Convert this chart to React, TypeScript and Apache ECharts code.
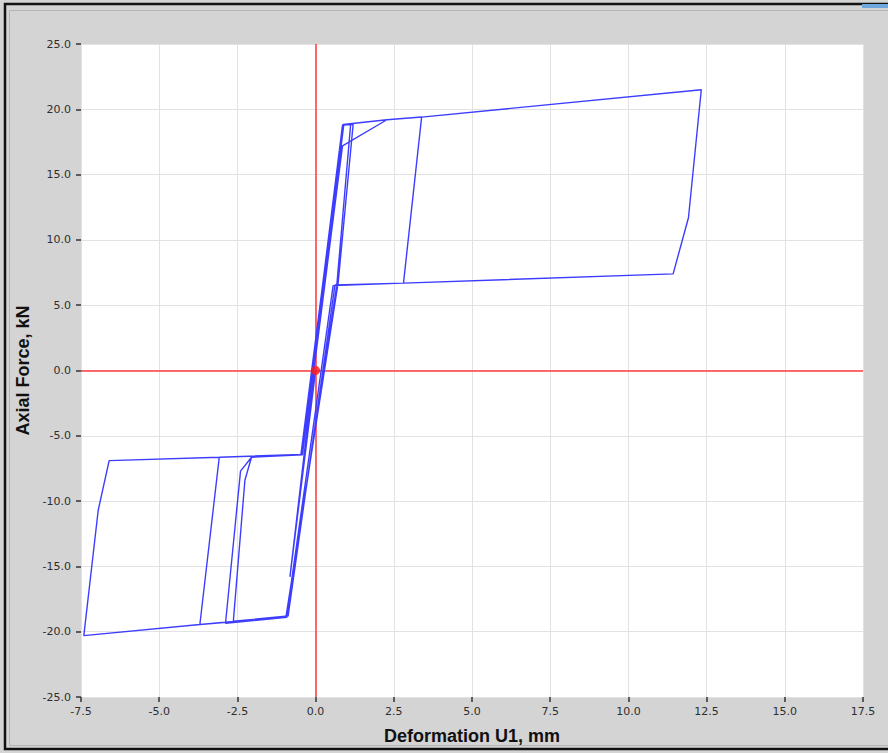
import React, { useEffect, useRef } from "react";
import * as echarts from "echarts";

// Hysteresis path of the brace: deformation (mm) and axial force (kN), point by point in load order.
const deformation: number[] = [
  0, -0.82, -0.05,
  0.86, 2.28, 3.39, 2.81, 0.62,
  -0.88, -2.63, -2.26, -2.05, -0.45,
  0.86, 1.12, 0.68, -0.92, -2.88, -2.4, -2.05, -0.42,
  0.9, 1.2, 0.72, -0.95, -3.7, -3.08, -0.47,
  0.88, 2.28, 3.39, 12.33, 11.92, 11.43, 2.81, 0.56,
  -0.93, -3.7, -7.41, -6.95, -6.6, -3.08, -0.45, 0,
];
const force: number[] = [
  0, -15.8, 0.1,
  17.2, 19.2, 19.42, 6.69, 6.55,
  -18.8, -19.2, -8.4, -6.64, -6.45,
  18.8, 18.85, 6.6, -18.9, -19.35, -7.7, -6.64, -6.45,
  18.8, 18.85, 6.7, -18.9, -19.45, -6.64, -6.43,
  18.84, 19.2, 19.4, 21.5, 11.7, 7.4, 6.69, 6.5,
  -18.85, -19.45, -20.3, -10.7, -6.9, -6.64, -6.43, 0,
];

// Current state marker
const currentPoint: [number, number] = [0, 0];

const xTitle = "Deformation U1, mm";
const yTitle = "Axial Force, kN";

export default function App() {
  const ref = useRef<HTMLDivElement>(null);

  useEffect(() => {
    if (!ref.current) return;
    const chart = echarts.init(ref.current, null, { renderer: "svg" });
    const path = deformation.map((d, i) => [d, force[i]]);
    const tickFont = {
      color: "#2e2e2e",
      fontSize: 11,
      fontFamily: "DejaVu Sans",
    };
    const titleFont = {
      color: "#111",
      fontSize: 18,
      fontWeight: "bold",
      fontFamily: "Liberation Sans",
    };
    // Axis line is kept invisible: the plot edge is the white/grey boundary, only the ticks show.
    const hiddenAxisLine = {
      show: true,
      onZero: false,
      lineStyle: { color: "rgba(0,0,0,0)" },
    };
    chart.setOption({
      animation: false,
      backgroundColor: "#d4d4d4",
      grid: {
        left: 81,
        right: 25,
        top: 44,
        bottom: 56,
        show: true,
        backgroundColor: "#ffffff",
        borderWidth: 0,
      },
      xAxis: {
        type: "value",
        min: -7.5,
        max: 17.5,
        interval: 2.5,
        name: xTitle,
        nameLocation: "middle",
        nameGap: 30,
        nameTextStyle: titleFont,
        axisLine: hiddenAxisLine,
        axisTick: { show: true, length: 5, lineStyle: { color: "#333", width: 1.5 } },
        axisLabel: { ...tickFont, margin: 9, formatter: (v: number) => v.toFixed(1) },
        splitLine: { show: true, lineStyle: { color: "#e2e2e2", width: 1 } },
      },
      yAxis: {
        type: "value",
        min: -25,
        max: 25,
        interval: 5,
        name: yTitle,
        nameLocation: "middle",
        nameGap: 42,
        nameTextStyle: titleFont,
        axisLine: hiddenAxisLine,
        axisTick: { show: true, length: 5, lineStyle: { color: "#333", width: 1.5 } },
        axisLabel: { ...tickFont, margin: 10, formatter: (v: number) => v.toFixed(1) },
        splitLine: { show: true, lineStyle: { color: "#e2e2e2", width: 1 } },
      },
      series: [
        {
          type: "line",
          data: path,
          showSymbol: false,
          symbol: "none",
          lineStyle: { color: "#3d3dff", width: 1.4 },
          z: 3,
          markLine: {
            silent: true,
            symbol: "none",
            label: { show: false },
            lineStyle: { color: "#ff3b3b", width: 1.5, type: "solid" },
            data: [{ xAxis: 0 }, { yAxis: 0 }],
            z: 2,
          },
        },
        {
          type: "scatter",
          data: [currentPoint],
          symbolSize: 9,
          itemStyle: { color: "#ff1a1a" },
          z: 5,
        },
      ],
      graphic: [
        {
          type: "rect",
          shape: { x: 5, y: 4, width: 900, height: 745 },
          style: { fill: "none", stroke: "#111", lineWidth: 2.5 },
          silent: true,
        },
        {
          type: "rect",
          shape: { x: 9.5, y: 10.5, width: 900, height: 735 },
          style: { fill: "none", stroke: "#b4b4b4", lineWidth: 1 },
          silent: true,
        },
        {
          type: "rect",
          shape: { x: 862, y: 4, width: 26, height: 4 },
          style: { fill: "#6fa8dc" },
          silent: true,
        },
      ],
    });
    return () => chart.dispose();
  }, []);

  return (
    <div
      ref={ref}
      style={{ position: "absolute", left: 0, top: 0, width: 888, height: 753 }}
    />
  );
}
